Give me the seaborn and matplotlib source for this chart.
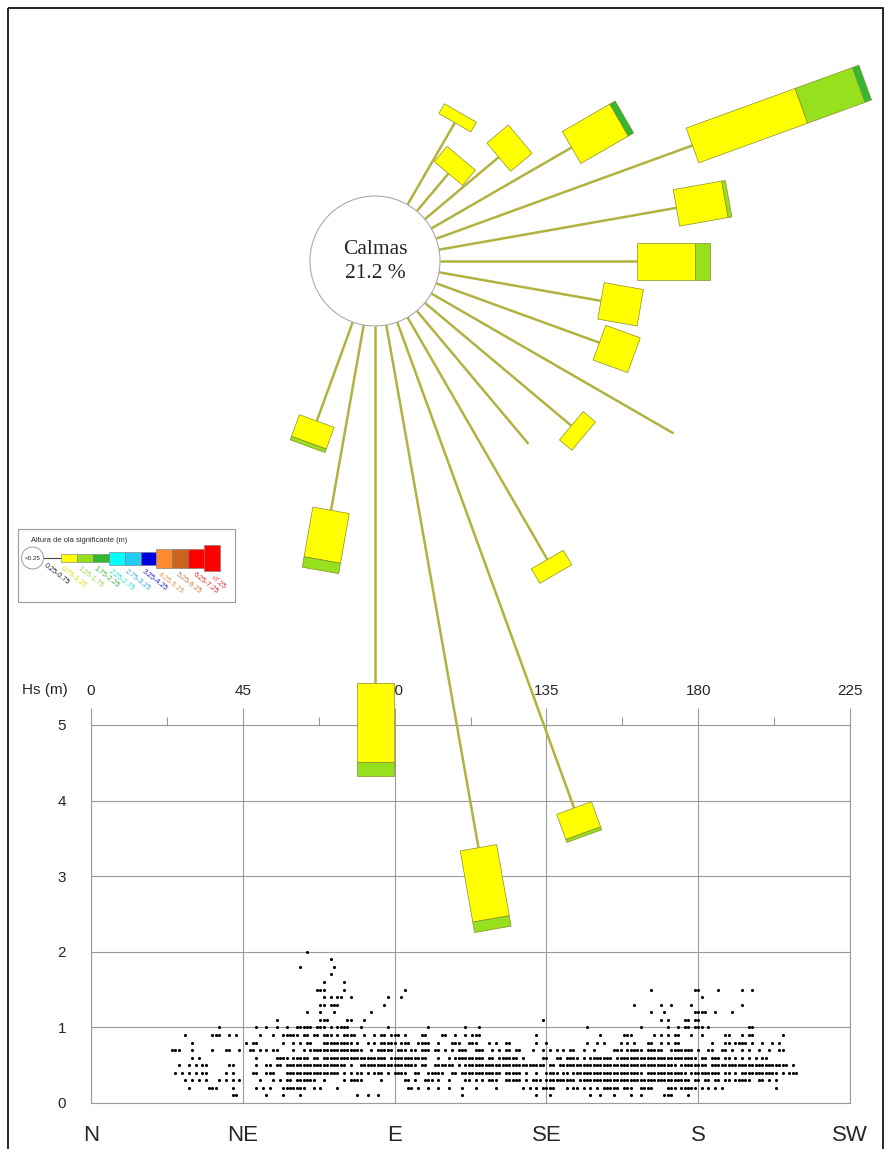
import numpy as np
import pandas as pd
import matplotlib
matplotlib.use("Agg")
import matplotlib.pyplot as plt
from matplotlib.patches import Circle, Polygon, Rectangle
import seaborn as sns

# ---------------- wave rose: frequency (%) per direction and Hs class ----------------
rose_dirs = [30, 40, 50, 60, 70, 80, 90, 100, 110, 120, 130, 140, 150, 160, 170, 180, 190, 200]
pct_025_075 = [1.52, 0.79, 1.55, 2.60, 4.38, 3.87, 3.16, 2.64, 2.79, 4.49, 3.07, 2.79, 4.49, 8.30, 8.52, 5.73, 3.02, 1.69]
pct_075_125 = [0.18, 0.32, 0.45, 0.88, 1.86, 0.79, 0.93, 0.64, 0.59, 0.00, 0.26, 0.00, 0.27, 0.43, 1.16, 1.27, 0.81, 0.37]
pct_125_175 = [0.00, 0.00, 0.00, 0.00, 0.98, 0.06, 0.24, 0.00, 0.00, 0.00, 0.00, 0.00, 0.00, 0.05, 0.17, 0.23, 0.17, 0.06]
pct_175_225 = [0.00, 0.00, 0.00, 0.10, 0.11, 0.00, 0.00, 0.00, 0.00, 0.00, 0.00, 0.00, 0.00, 0.00, 0.00, 0.00, 0.00, 0.00]
calm_pct = 21.2

# Hs classes of the legend
class_labels = ["0.25-0.75", "0.75-1.25", "1.25-1.75", "1.75-2.25", "2.25-2.75", "2.75-3.25",
                "3.25-4.25", "4.25-5.25", "5.25-6.25", "6.25-7.25", ">7.25"]
class_fill = [None, "#ffff00", "#96e01e", "#33b833", "#00ffff", "#22ccf2", "#0000e0",
              "#ff8a30", "#c8641e", "#ff0000", "#ff0000"]
class_text = ["#222222", "#e0e000", "#9ad84a", "#3fae3f", "#2ad8d8", "#33a8dc", "#2222c8",
              "#d89a55", "#c47a45", "#dd2a2a", "#e83030"]

# ---------------- scatter: Hs (m) against mean direction (deg) ----------------
hs_levels = [0.1, 0.2, 0.3, 0.4, 0.5, 0.6, 0.7, 0.8, 0.9, 1.0,
             1.1, 1.2, 1.3, 1.4, 1.5, 1.6, 1.7, 1.8, 1.9, 2.0]
dir_rows = [
    "42-43 52 57 62 79 82 85 110 132 136 148 151 155 160 163 170-172 177",
    "29 35-37 42 49 51 53 57-63 66 68 73 94-95 97 100 103 106 110 114 120 128 130 132 134-137 141 143-144 "
    "146 148 150 152-156 158-160 163-166 171-173 175-179 181 183 185 187 203",
    "28 30 32 34 38 40 42 44 50 54 56 58-59 61-66 69 75 77-80 86 93-94 96 99-101 103 106 111-112 114 116 "
    "118-120 123-127 129 131-133 135-143 145-177 179-180 182-183 185-186 188-189 191-195 198-199 201 203",
    "25 27 29 31 33-34 40 42 48-49 52-54 58-73 75 77 79-80 82 84-86 88 90-93 96-97 100-104 107-108 110-121 "
    "123-127 129 132 135-138 140-141 143-163 165-176 178-186 188-189 191 193-203 205 207-209",
    "26 29 31 33-34 41-42 49 52-53 55-56 58-75 77 80-96 98-99 102-107 109 111-134 136-137 139-173 175-182 "
    "184-206 208",
    "30 32 49 55-58 60-64 66-67 69-87 89-99 103 106 108-116 118-119 121-126 128 134-135 138-139 141-144 146 "
    "148-154 156-179 181-182 184-186 188-189 191 193 195 197 199-200",
    "24-26 30 36 40-41 44 47-48 50 52 54-55 60 63 65-80 83 85-89 91-93 95-96 98-100 102-103 105 107 109-111 "
    "114-116 119 121 123-124 126-127 131 134 136 138 140 142-143 146 149 155-157 159-163 165-169 172-178 180 "
    "183-184 187-188 190 193 195 198 201 204-205",
    "30 46 48-49 57 60 62 64-65 69-77 79 82 84 86-90 92-94 97-100 103 107-109 112-114 118 120 123-124 132 135 "
    "147 150 152 157 159 161 165-166 169 171 173-174 184 188-189 191-194 196 199 202 204",
    "28 36-38 41 43 50 54 57-61 63-64 66-67 69-71 73 75-78 81 84 86-87 89-91 93 98-99 104-105 108 111 113-115 "
    "132 151 158-160 167 169 171 173-174 178 181 188-189 193 195-196 205",
    "38 49 52 55 58 61-65 67-69 71 73-76 80 88 100 111 115 147 163 171 174 176-177 179-181 183 195-196",
    "55 68-70 76-77 81 134 169 171 176-177 179-180",
    "64 68 72 83 166 170 179-182 185 190",
    "68-69 71-73 87 161 169 172 178 193",
    "69 71 73-74 77 88 92 181",
    "67-69 75 93 166 179-180 186 193 196",
    "69 75",
    "71",
    "62 72",
    "71",
    "64",
]

x_ticks = [0, 45, 90, 135, 180, 225]
compass_labels = ["N", "NE", "E", "SE", "S", "SW"]


def expand_runs(text):
    out = set()
    for tok in text.split():
        if "-" in tok:
            a, b = tok.split("-")
            out.update(range(int(a), int(b) + 1))
        else:
            out.add(int(tok))
    return sorted(out)


rows = []
for hs, runs in zip(hs_levels, dir_rows):
    for d in expand_runs(runs):
        rows.append((d, hs))
df = pd.DataFrame(rows, columns=["Dir", "Hs"])

# ---------------- figure ----------------
sns.set_style("white")
plt.rcParams["font.family"] = ["Liberation Sans", "DejaVu Sans"]

W, H = 891, 1149
fig = plt.figure(figsize=(W / 100, H / 100), dpi=100)

grid_col = "#9a9a9a"
x0, x1, y0, y1 = 91, 850, 725, 1103
ax = fig.add_axes([x0 / W, 1 - y1 / H, (x1 - x0) / W, (y1 - y0) / H])
sns.scatterplot(data=df, x="Dir", y="Hs", ax=ax, color="black", s=5, linewidth=0, marker="o", zorder=3)
ax.set_xlim(0, 225)
ax.set_ylim(0, 5)
ax.xaxis.tick_top()
ax.set_xticks(x_ticks)
ax.set_xticks([22.5, 67.5, 112.5, 157.5, 202.5], minor=True)
ax.set_yticks([0, 1, 2, 3, 4, 5])
ax.set_yticks([0.5, 1.5, 2.5, 3.5, 4.5], minor=True)
ax.tick_params(axis="x", which="major", length=12, width=0.8, color=grid_col, labelsize=11, pad=7.5)
ax.tick_params(axis="x", which="minor", length=6, width=0.8, color=grid_col)
ax.tick_params(axis="y", which="major", length=13, width=0.8, color=grid_col, labelsize=11, pad=5)
ax.tick_params(axis="y", which="minor", length=8, width=0.8, color=grid_col)
ax.grid(True, which="major", color=grid_col, lw=0.8)
for s in ax.spines.values():
    s.set_color(grid_col)
    s.set_linewidth(0.8)
ax.set_xlabel("")
ax.set_ylabel("")

sec = ax.secondary_xaxis("bottom")
sec.set_xticks(x_ticks)
sec.set_xticklabels(compass_labels)
sec.tick_params(length=0, labelsize=16, pad=16)
sec.spines["bottom"].set_visible(False)

fig.text(22 / W, 1 - 690 / H, "Hs (m)", fontsize=11, ha="left", va="center")

# ---------------- rose overlay (pixel coordinates) ----------------
ar = fig.add_axes([0, 0, 1, 1], zorder=5)
ar.set_xlim(0, W)
ar.set_ylim(H, 0)
ar.axis("off")

cx, cy, r_calm = 375, 261, 65
px_per_pct = 62.3
box_w = 37
stem_col = "#b2b240"
edge_col = "#8c8c2c"

ar.add_patch(Circle((cx, cy), r_calm, fc="white", ec="#aaaaaa", lw=0.8, zorder=4))
ar.text(cx, cy - 12, "Calmas", family=["Liberation Serif", "DejaVu Serif"], fontsize=15.5,
        ha="center", va="center", zorder=6)
ar.text(cx, cy + 12, f"{calm_pct} %", family=["Liberation Serif", "DejaVu Serif"], fontsize=15.5,
        ha="center", va="center", zorder=6)

segments = [pct_075_125, pct_125_175, pct_175_225]
c = np.array([cx, cy], dtype=float)
for i, d in enumerate(rose_dirs):
    th = np.deg2rad(d)
    u = np.array([np.sin(th), -np.cos(th)])
    p = np.array([np.cos(th), np.sin(th)])
    r = r_calm + pct_025_075[i] * px_per_pct
    a, b = c + r_calm * u, c + r * u
    ar.plot([a[0], b[0]], [a[1], b[1]], color=stem_col, lw=1.8, solid_capstyle="butt", zorder=3)
    for k, vals in enumerate(segments):
        L = vals[i] * px_per_pct
        if L <= 0:
            continue
        s0, s1 = c + r * u, c + (r + L) * u
        hw = p * box_w / 2
        ar.add_patch(Polygon([s0 + hw, s1 + hw, s1 - hw, s0 - hw], closed=True,
                             fc=class_fill[k + 1], ec=edge_col, lw=0.5, zorder=4))
        r += L

# ---------------- legend ----------------
ar.add_patch(Rectangle((18, 529), 217, 73, fc="white", ec="#9a9a9a", lw=0.8, zorder=6))
ar.text(31, 540, "Altura de ola significante (m)", fontsize=5.4, ha="left", va="center", zorder=7)
ar.add_patch(Circle((32.5, 558), 11, fc="white", ec="#9a9a9a", lw=0.7, zorder=7))
ar.text(32.5, 558, "<0.25", fontsize=4.5, ha="center", va="center", zorder=8)
ar.plot([43.5, 61], [558, 558], color="#444444", lw=0.8, zorder=7)
leg_h = [8, 8, 8, 13, 13, 13, 19, 19, 19, 26]
bx = 61.0
bw = 15.9
for k in range(1, len(class_labels)):
    h = leg_h[k - 1]
    ar.add_patch(Rectangle((bx, 558 - h / 2), bw, h, fc=class_fill[k], ec="#777777", lw=0.4, zorder=7))
    bx += bw
lx = [47, 64, 80, 96, 112, 128, 145, 161, 179, 196, 213]
ly = [562, 565, 565, 565, 568, 568, 568, 571, 571, 571, 574]
for k, lab in enumerate(class_labels):
    ar.text(lx[k], ly[k], lab, fontsize=5.2, color=class_text[k], rotation=-38,
            rotation_mode="anchor", ha="left", va="top", zorder=8)

# outer frame
ar.add_patch(Rectangle((8, 8), 875, 1170, fill=False, ec="black", lw=1.2, zorder=9))

fig.savefig("out.png", dpi=100)
